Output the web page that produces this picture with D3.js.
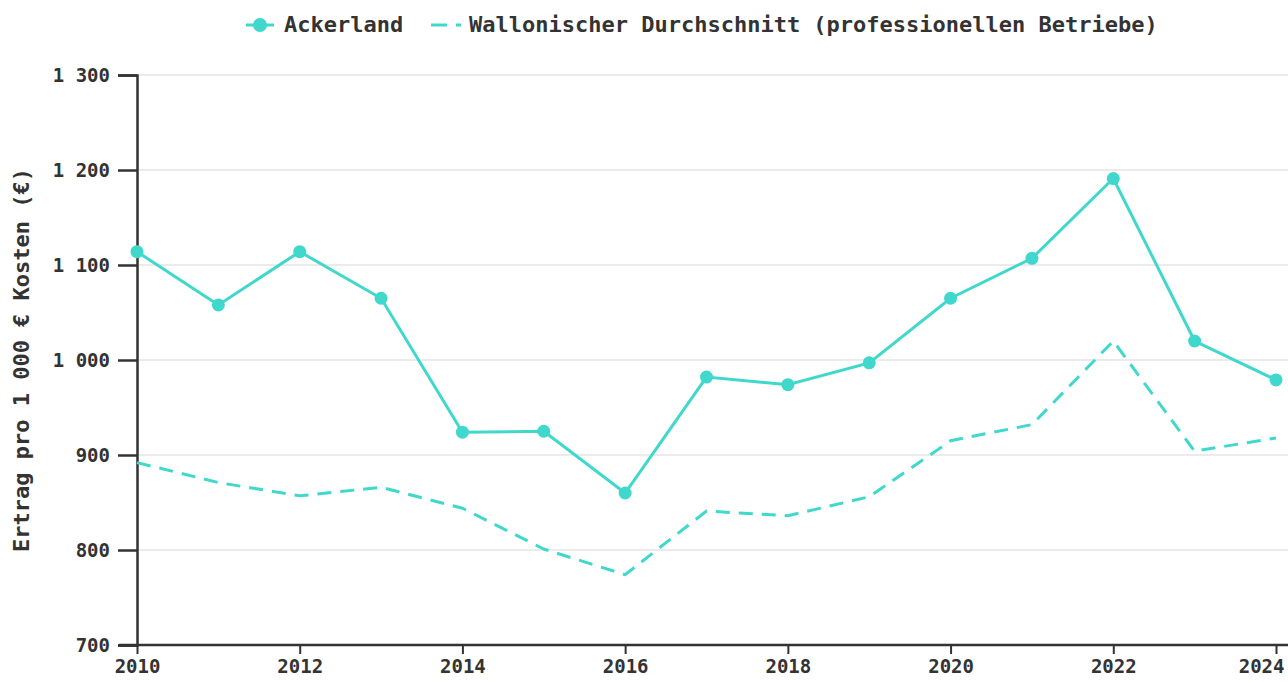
<!DOCTYPE html>
<html>
<head>
<meta charset="utf-8">
<script src="https://cdn.jsdelivr.net/npm/d3@7"></script>
<style>
  body { margin: 0; background: #fff; }
  text { font-family: "DejaVu Sans Mono", monospace; fill: #333; }
</style>
</head>
<body>
<div id="chart"></div>
<script>
const years = [2010, 2011, 2012, 2013, 2014, 2015, 2016, 2017, 2018, 2019, 2020, 2021, 2022, 2023, 2024];
const ackerland = [1114, 1058, 1114, 1065, 924, 925, 860, 982, 974, 997, 1065, 1107, 1191, 1020, 979];
const wallonie = [892, 871, 857, 866, 844, 801, 774, 841, 836, 856, 915, 932, 1020, 904, 918];
const yTicks = [700, 800, 900, 1000, 1100, 1200, 1300];
const xTicks = [2010, 2012, 2014, 2016, 2018, 2020, 2022, 2024];
const seriesNames = ["Ackerland", "Wallonischer Durchschnitt (professionellen Betriebe)"];

const width = 1288, height = 682;
const color = "#40d8cc";
const fmt = v => d3.format(",")(v).replace(/,/g, " ");

const svg = d3.select("#chart").append("svg")
    .attr("width", width)
    .attr("height", height);

const x = d3.scaleLinear().domain([2010, 2024]).range([137, 1276]);
const y = d3.scaleLinear().domain([700, 1300]).range([645, 75]);

// grid
svg.append("g").selectAll("line")
    .data(yTicks.slice(1))
    .enter().append("line")
    .attr("x1", 137).attr("x2", width)
    .attr("y1", d => y(d)).attr("y2", d => y(d))
    .attr("stroke", "#e5e5e5").attr("stroke-width", 1.5);

// y axis
const yAxis = svg.append("g")
    .attr("transform", "translate(137,0)")
    .call(d3.axisLeft(y).tickValues(yTicks).tickFormat(fmt).tickSize(19).tickPadding(8));
yAxis.select(".domain").attr("stroke", "#333").attr("stroke-width", 2.5);
yAxis.selectAll(".tick line").attr("stroke", "#333").attr("stroke-width", 2.5);
yAxis.selectAll(".tick text")
    .attr("font-family", "DejaVu Sans Mono")
    .attr("font-size", 19).attr("font-weight", "bold").attr("fill", "#333");

// x axis
const xAxis = svg.append("g")
    .attr("transform", "translate(0,645)")
    .call(d3.axisBottom(x).tickValues(xTicks).tickFormat(d3.format("d")).tickSize(9).tickPadding(6));
xAxis.select(".domain").attr("stroke", "#333").attr("stroke-width", 2.5)
    .attr("d", "M119,0H" + width);
xAxis.selectAll(".tick line").attr("stroke", "#333").attr("stroke-width", 2);
xAxis.selectAll(".tick text")
    .attr("font-family", "DejaVu Sans Mono")
    .attr("font-size", 19).attr("font-weight", "bold").attr("fill", "#333");
// last label pulled inside the canvas
xAxis.selectAll(".tick text").filter(d => d === 2024)
    .attr("text-anchor", "end").attr("dx", 8);

// y title
svg.append("text")
    .attr("transform", "translate(29,360) rotate(-90)")
    .attr("text-anchor", "middle")
    .attr("font-size", 22).attr("font-weight", "bold")
    .text("Ertrag pro 1 000 € Kosten (€)");

const line = d3.line().x((d, i) => x(years[i])).y(d => y(d));

svg.append("path")
    .datum(wallonie)
    .attr("fill", "none").attr("stroke", color)
    .attr("stroke-width", 3).attr("stroke-dasharray", "14,9")
    .attr("d", line);

svg.append("path")
    .datum(ackerland)
    .attr("fill", "none").attr("stroke", color)
    .attr("stroke-width", 3)
    .attr("d", line);

svg.append("g").selectAll("circle")
    .data(ackerland)
    .enter().append("circle")
    .attr("cx", (d, i) => x(years[i])).attr("cy", d => y(d))
    .attr("r", 6.5).attr("fill", color);

// legend
const legend = svg.append("g");
legend.append("line")
    .attr("x1", 246).attr("x2", 274).attr("y1", 25).attr("y2", 25)
    .attr("stroke", color).attr("stroke-width", 3);
legend.append("circle")
    .attr("cx", 260).attr("cy", 25).attr("r", 7).attr("fill", color);
legend.append("text")
    .attr("x", 284).attr("y", 32)
    .attr("font-size", 22).attr("font-weight", "bold")
    .text(seriesNames[0]);
legend.append("line")
    .attr("x1", 431).attr("x2", 461).attr("y1", 25).attr("y2", 25)
    .attr("stroke", color).attr("stroke-width", 3).attr("stroke-dasharray", "16,9");
legend.append("text")
    .attr("x", 469).attr("y", 32)
    .attr("font-size", 22).attr("font-weight", "bold")
    .text(seriesNames[1]);
</script>
</body>
</html>
